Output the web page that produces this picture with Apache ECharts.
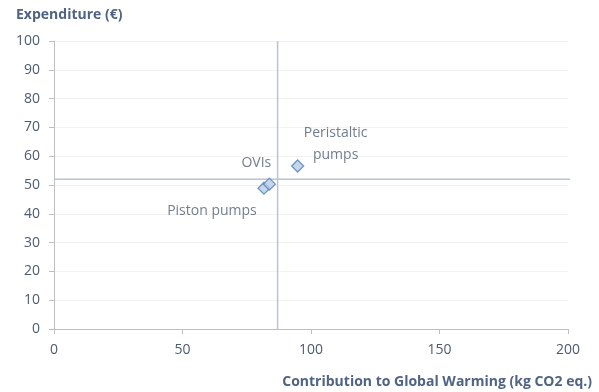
<!DOCTYPE html>
<html><head><meta charset="utf-8">
<script src="https://cdn.jsdelivr.net/npm/echarts@6/dist/echarts.min.js"></script>
<style>html,body{margin:0;padding:0;background:#fff}#c{width:599px;height:392px}</style>
</head><body><div id="c"></div>
<script>
var pointNames = ['Piston pumps', 'OVIs', 'Peristaltic pumps'];
var pointX = [81.7, 83.8, 94.8];
var pointY = [48.9, 50.3, 56.6];
var refX = 87;
var refY = 52;
var xTicks = [0, 50, 100, 150, 200];

var txt = '#4d5b72';
var font = 'Open Sans';
var labelOffsets = [[-52, 23], [-13, -21], [38, -22]];
var pts = pointNames.map(function (n, i) {
  return {name: n, value: [pointX[i], pointY[i]],
    label: {show: true, position: 'inside', align: 'center', verticalAlign: 'middle',
      offset: labelOffsets[i], formatter: i === 2 ? 'Peristaltic\npumps' : n,
      color: txt, fontSize: 14, fontFamily: font, lineHeight: 22}};
});
var chart = echarts.init(document.getElementById('c'));
chart.setOption({
  animation: false,
  grid: {left: 54, right: 31, top: 41, bottom: 63, containLabel: false},
  title: [
    {text: 'Expenditure (€)', left: 11, top: 3,
      textStyle: {color: '#4f6385', fontSize: 14, fontWeight: 'bold', fontFamily: font}},
    {text: 'Contribution to Global Warming (kg CO2 eq.)', right: 2, top: 370,
      textStyle: {color: '#4f6385', fontSize: 14, fontWeight: 'bold', fontFamily: font}}
  ],
  xAxis: {type: 'value', min: 0, max: 200, interval: 50,
    axisLine: {lineStyle: {color: '#bfbfbf'}},
    axisTick: {show: true, length: 5, lineStyle: {color: '#bfbfbf'}},
    axisLabel: {color: txt, fontSize: 14, fontFamily: font, margin: 14,
      customValues: xTicks},
    splitLine: {show: false}},
  yAxis: {type: 'value', min: 0, max: 100, interval: 10,
    axisLine: {show: true, lineStyle: {color: '#bfbfbf'}},
    axisTick: {show: true, length: 5, lineStyle: {color: '#bfbfbf'}},
    axisLabel: {color: txt, fontSize: 14, fontFamily: font, margin: 14},
    splitLine: {show: true, lineStyle: {color: '#f2f2f2'}}},
  series: [
    {type: 'line', data: [[0, refY], [211.5, refY]], clip: false, symbol: 'none',
      lineStyle: {color: '#b8c4d6', width: 1.5}, silent: true, z: 1},
    {type: 'line', data: [[refX, 0], [refX, 100]], symbol: 'none',
      lineStyle: {color: '#b8c4d6', width: 1.5}, silent: true, z: 1},
    {type: 'scatter', data: pts, symbol: 'diamond', symbolSize: 12,
      itemStyle: {color: '#b9cde5', borderColor: '#4f81bd', borderWidth: 1.3}, z: 3}
  ]
});
</script></body></html>
